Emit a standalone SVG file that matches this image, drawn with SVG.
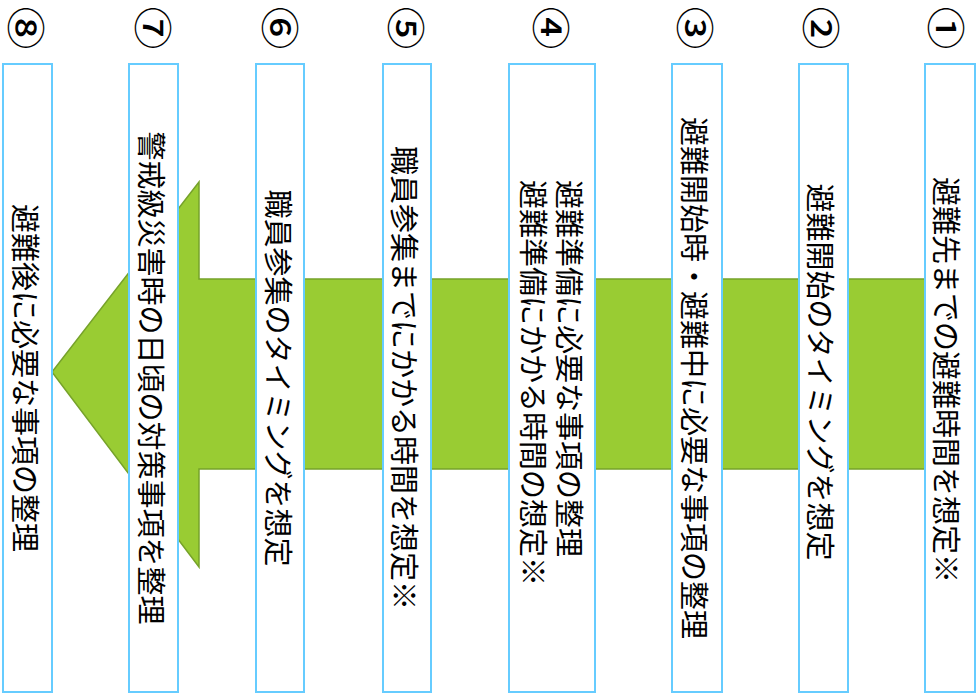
<svg xmlns="http://www.w3.org/2000/svg" width="976" height="693" viewBox="0 0 976 693">
<style>
.box{fill:#ffffff;stroke:#66ccff;stroke-width:2}
.lbl{font-family:"Noto Sans CJK JP","Noto Sans CJK SC",sans-serif;font-size:29px;fill:#000;dominant-baseline:central}
.num{font-family:"Noto Sans CJK JP","Noto Sans CJK SC",sans-serif;font-size:38px;font-weight:500;fill:#000;text-anchor:middle;dominant-baseline:central}
.arrow{fill:#99cc33;stroke:#76a22a;stroke-width:1.5}
</style>
<rect width="976" height="693" fill="#ffffff"/>
<g id="connectors">
<polygon class="arrow" points="940,279 199,279 199,182 52,372 199,567 199,469 940,469"/>
</g>
<g id="node1">
<text class="num" transform="translate(948,28) rotate(90) scale(1.12,1)">①</text>
<rect class="box" x="925" y="64" width="50" height="628"/>
<text class="lbl" text-anchor="middle" transform="translate(948,380) rotate(90)">避難先までの避難時間を想定※</text>
</g>
<g id="node2">
<text class="num" transform="translate(823,28) rotate(90) scale(1.12,1)">②</text>
<rect class="box" x="799" y="64" width="49" height="628"/>
<text class="lbl" text-anchor="middle" transform="translate(822,372) rotate(90)">避難開始のタイミングを想定</text>
</g>
<g id="node3">
<text class="num" transform="translate(697,28) rotate(90) scale(1.12,1)">③</text>
<rect class="box" x="672" y="64" width="50" height="628"/>
<text class="lbl" text-anchor="middle" transform="translate(696,378) rotate(90)">避難開始時・避難中に必要な事項の整理</text>
</g>
<g id="node4">
<text class="num" transform="translate(553,28) rotate(90) scale(1.12,1)">④</text>
<rect class="box" x="509" y="64" width="86" height="628"/>
<text class="lbl" text-anchor="start" transform="translate(571,180) rotate(90)">避難準備に必要な事項の整理</text>
<text class="lbl" text-anchor="start" transform="translate(535,180) rotate(90)">避難準備にかかる時間の想定※</text>
</g>
<g id="node5">
<text class="num" transform="translate(408,28) rotate(90) scale(1.12,1)">⑤</text>
<rect class="box" x="383" y="64" width="48" height="628"/>
<text class="lbl" text-anchor="middle" transform="translate(406,378) rotate(90)">職員参集までにかかる時間を想定※</text>
</g>
<g id="node6">
<text class="num" transform="translate(282,28) rotate(90) scale(1.12,1)">⑥</text>
<rect class="box" x="256" y="64" width="48" height="628"/>
<text class="lbl" text-anchor="middle" transform="translate(280,378) rotate(90)">職員参集のタイミングを想定</text>
</g>
<g id="node7">
<text class="num" transform="translate(155,28) rotate(90) scale(1.12,1)">⑦</text>
<rect class="box" x="129" y="64" width="49" height="628"/>
<text class="lbl" text-anchor="middle" transform="translate(153,378) rotate(90)">警戒級災害時の日頃の対策事項を整理</text>
</g>
<g id="node8">
<text class="num" transform="translate(28,28) rotate(90) scale(1.12,1)">⑧</text>
<rect class="box" x="3" y="64" width="49" height="628"/>
<text class="lbl" text-anchor="middle" transform="translate(27,378) rotate(90)">避難後に必要な事項の整理</text>
</g>
</svg>
